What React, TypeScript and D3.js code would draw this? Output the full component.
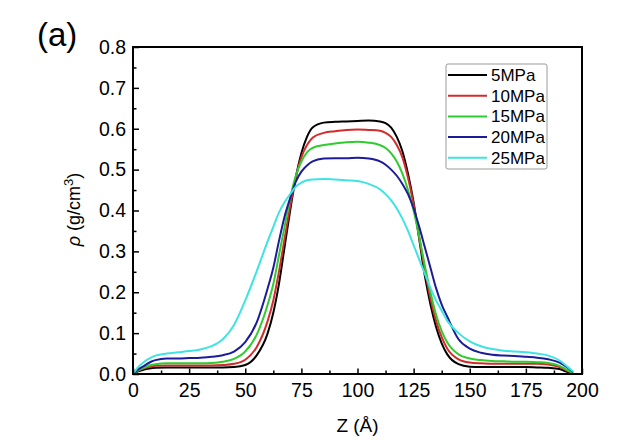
import React, { useEffect, useRef } from 'react';
import * as d3 from 'd3';

// Z positions (Å) shared by all series
const zValues = [
  0, 2, 5, 8, 10, 15, 20, 25, 30, 35, 40, 45, 50, 55, 60, 62.5, 65, 67.5, 70, 72.5,
  75, 77.5, 80, 85, 90, 95, 100, 105, 110, 112.5, 115, 117.5, 120, 122.5, 125, 127.5,
  130, 132.5, 135, 137.5, 140, 145, 150, 155, 160, 165, 170, 175, 180, 185, 190, 193, 196,
];

const rho5 = [
  0, 0.006, 0.011, 0.014, 0.015, 0.016, 0.016, 0.016, 0.016, 0.016, 0.016, 0.017, 0.022, 0.045, 0.1, 0.15, 0.22, 0.31, 0.4, 0.48,
  0.54, 0.58, 0.603, 0.615, 0.617, 0.618, 0.619, 0.62, 0.618, 0.614, 0.603, 0.58, 0.545, 0.49, 0.42, 0.33,
  0.24, 0.17, 0.115, 0.075, 0.048, 0.024, 0.018, 0.017, 0.017, 0.017, 0.017, 0.017, 0.016, 0.015, 0.012, 0.006, 0.001,
];

const rho10 = [
  0, 0.007, 0.014, 0.018, 0.02, 0.021, 0.021, 0.021, 0.021, 0.021, 0.022, 0.025, 0.035, 0.065, 0.13, 0.18, 0.25, 0.33, 0.41, 0.48,
  0.53, 0.56, 0.578, 0.59, 0.594, 0.597, 0.598, 0.597, 0.595, 0.59, 0.58, 0.56, 0.53, 0.48, 0.415, 0.335,
  0.255, 0.185, 0.13, 0.09, 0.062, 0.036, 0.028, 0.026, 0.025, 0.025, 0.025, 0.025, 0.025, 0.023, 0.017, 0.009, 0.002,
];

const rho15 = [
  0, 0.008, 0.016, 0.022, 0.024, 0.026, 0.026, 0.026, 0.026, 0.027, 0.03, 0.037, 0.055, 0.095, 0.17, 0.22, 0.29, 0.36, 0.43, 0.485,
  0.52, 0.542, 0.553, 0.56, 0.564, 0.567, 0.568, 0.566, 0.56, 0.553, 0.54, 0.52, 0.49, 0.45, 0.4, 0.335,
  0.265, 0.2, 0.145, 0.105, 0.077, 0.048, 0.038, 0.034, 0.032, 0.031, 0.03, 0.03, 0.029, 0.027, 0.02, 0.011, 0.002,
];

const rho20 = [
  0, 0.01, 0.02, 0.03, 0.034, 0.038, 0.038, 0.039, 0.04, 0.042, 0.046, 0.055, 0.078, 0.125, 0.21, 0.26, 0.325, 0.385, 0.43, 0.47,
  0.495, 0.51, 0.52, 0.527, 0.528, 0.528, 0.529, 0.527, 0.52, 0.512, 0.5, 0.485, 0.465, 0.44, 0.405, 0.36,
  0.31, 0.26, 0.21, 0.17, 0.14, 0.085, 0.062, 0.052, 0.047, 0.045, 0.044, 0.042, 0.04, 0.036, 0.028, 0.018, 0.005,
];

const rho25 = [
  0, 0.015, 0.03, 0.04, 0.045, 0.05, 0.053, 0.056, 0.06, 0.068, 0.085, 0.12, 0.18, 0.25, 0.325, 0.36, 0.395, 0.42, 0.44, 0.458,
  0.468, 0.474, 0.476, 0.477, 0.476, 0.474, 0.472, 0.465, 0.452, 0.44, 0.425, 0.405, 0.38, 0.35, 0.315, 0.28,
  0.245, 0.21, 0.18, 0.155, 0.13, 0.1, 0.08, 0.068, 0.061, 0.057, 0.055, 0.053, 0.05, 0.045, 0.033, 0.02, 0.006,
];

const seriesNames = ['5MPa', '10MPa', '15MPa', '20MPa', '25MPa'];
const seriesValues = [rho5, rho10, rho15, rho20, rho25];
const seriesColors = ['#000000', '#d62a2a', '#2ecc2e', '#1c1c9a', '#3fe3e3'];

const xTicks = [0, 25, 50, 75, 100, 125, 150, 175, 200];
const yTicks = [0, 0.1, 0.2, 0.3, 0.4, 0.5, 0.6, 0.7, 0.8];

const FONT = '"Liberation Sans", Arial, sans-serif';

const DensityChart: React.FC = () => {
  const svgRef = useRef<SVGSVGElement>(null);
  const width = 640;
  const height = 440;

  useEffect(() => {
    if (!svgRef.current) return;
    const svg = d3.select(svgRef.current);
    svg.selectAll('*').remove();

    const margin = { top: 47, right: 58, bottom: 66, left: 133 };
    const innerWidth = width - margin.left - margin.right;
    const innerHeight = height - margin.top - margin.bottom;

    const g = svg.append('g').attr('transform', `translate(${margin.left},${margin.top})`);

    const xScale = d3.scaleLinear().domain([0, 200]).range([0, innerWidth]);
    const yScale = d3.scaleLinear().domain([0, 0.8]).range([innerHeight, 0]);

    // curves
    const line = d3
      .line<number>()
      .x((_, i) => xScale(zValues[i]))
      .y(d => yScale(d))
      .curve(d3.curveMonotoneX);

    seriesValues.forEach((vals, i) => {
      g.append('path')
        .datum(vals)
        .attr('d', line)
        .attr('fill', 'none')
        .attr('stroke', seriesColors[i])
        .attr('stroke-width', 2)
        .attr('stroke-linejoin', 'round');
    });

    // minor ticks
    const xMinor = d3.range(12.5, 200, 25);
    const yMinor = d3.range(0.05, 0.8, 0.1);

    const xAxis = d3
      .axisBottom(xScale)
      .tickValues(xTicks)
      .tickSizeInner(-5.5)
      .tickSizeOuter(0)
      .tickPadding(9)
      .tickFormat(d => `${d}`);
    const xAxisG = g.append('g').attr('transform', `translate(0,${innerHeight})`).call(xAxis);
    xAxisG.select('.domain').remove();
    xAxisG.selectAll('line').attr('stroke', '#000').attr('stroke-width', 1.5);
    xAxisG.selectAll('text').style('font-family', FONT).style('font-size', '19.5px').attr('fill', '#000');

    const xMinorG = g
      .append('g')
      .attr('transform', `translate(0,${innerHeight})`)
      .call(d3.axisBottom(xScale).tickValues(xMinor).tickSizeInner(-3.5).tickSizeOuter(0).tickFormat(() => ''));
    xMinorG.select('.domain').remove();
    xMinorG.selectAll('line').attr('stroke', '#000').attr('stroke-width', 1.5);

    const yAxis = d3
      .axisLeft(yScale)
      .tickValues(yTicks)
      .tickSizeInner(-6)
      .tickSizeOuter(0)
      .tickPadding(7)
      .tickFormat(d => d3.format('.1f')(d as number));
    const yAxisG = g.append('g').call(yAxis);
    yAxisG.select('.domain').remove();
    yAxisG.selectAll('line').attr('stroke', '#000').attr('stroke-width', 1.5);
    yAxisG.selectAll('text').style('font-family', FONT).style('font-size', '19.5px').attr('fill', '#000');

    const yMinorG = g
      .append('g')
      .call(d3.axisLeft(yScale).tickValues(yMinor).tickSizeInner(-3.5).tickSizeOuter(0).tickFormat(() => ''));
    yMinorG.select('.domain').remove();
    yMinorG.selectAll('line').attr('stroke', '#000').attr('stroke-width', 1.5);

    // frame
    g.append('rect')
      .attr('width', innerWidth)
      .attr('height', innerHeight)
      .attr('fill', 'none')
      .attr('stroke', '#000')
      .attr('stroke-width', 2);

    // axis titles
    svg.append('text')
      .attr('x', margin.left + innerWidth / 2)
      .attr('y', 432)
      .attr('text-anchor', 'middle')
      .style('font-family', FONT)
      .style('font-size', '19px')
      .text('Z (Å)');

    const yLabel = svg.append('text')
      .attr('transform', `translate(80,${margin.top + innerHeight / 2 - 1}) rotate(-90)`)
      .attr('text-anchor', 'middle')
      .style('font-family', FONT)
      .style('font-size', '18px');
    yLabel.append('tspan').style('font-style', 'italic').text('ρ');
    yLabel.append('tspan').text(' (g/cm');
    yLabel.append('tspan').attr('dy', -7).style('font-size', '13px').text('3');
    yLabel.append('tspan').attr('dy', 7).text(')');

    // panel label
    svg.append('text')
      .attr('x', 37)
      .attr('y', 46)
      .style('font-family', FONT)
      .style('font-size', '33px')
      .text('(a)');

    // legend
    const legend = svg.append('g').attr('transform', 'translate(446,64)');
    legend.append('rect')
      .attr('width', 101)
      .attr('height', 105)
      .attr('rx', 2)
      .attr('fill', '#fff')
      .attr('stroke', '#9a9a9a')
      .attr('stroke-width', 1);
    seriesNames.forEach((name, i) => {
      const cy = 11 + i * 20.7;
      legend.append('line')
        .attr('x1', 2)
        .attr('x2', 41)
        .attr('y1', cy)
        .attr('y2', cy)
        .attr('stroke', seriesColors[i])
        .attr('stroke-width', 2);
      legend.append('text')
        .attr('x', 45)
        .attr('y', cy)
        .attr('dy', '0.35em')
        .style('font-family', FONT)
        .style('font-size', '17px')
        .text(name);
    });
  }, []);

  return (
    <svg
      ref={svgRef}
      width={width}
      height={height}
      style={{ position: 'absolute', left: 0, top: 0, backgroundColor: '#ffffff' }}
    />
  );
};

export default function App() {
  return <DensityChart />;
}
